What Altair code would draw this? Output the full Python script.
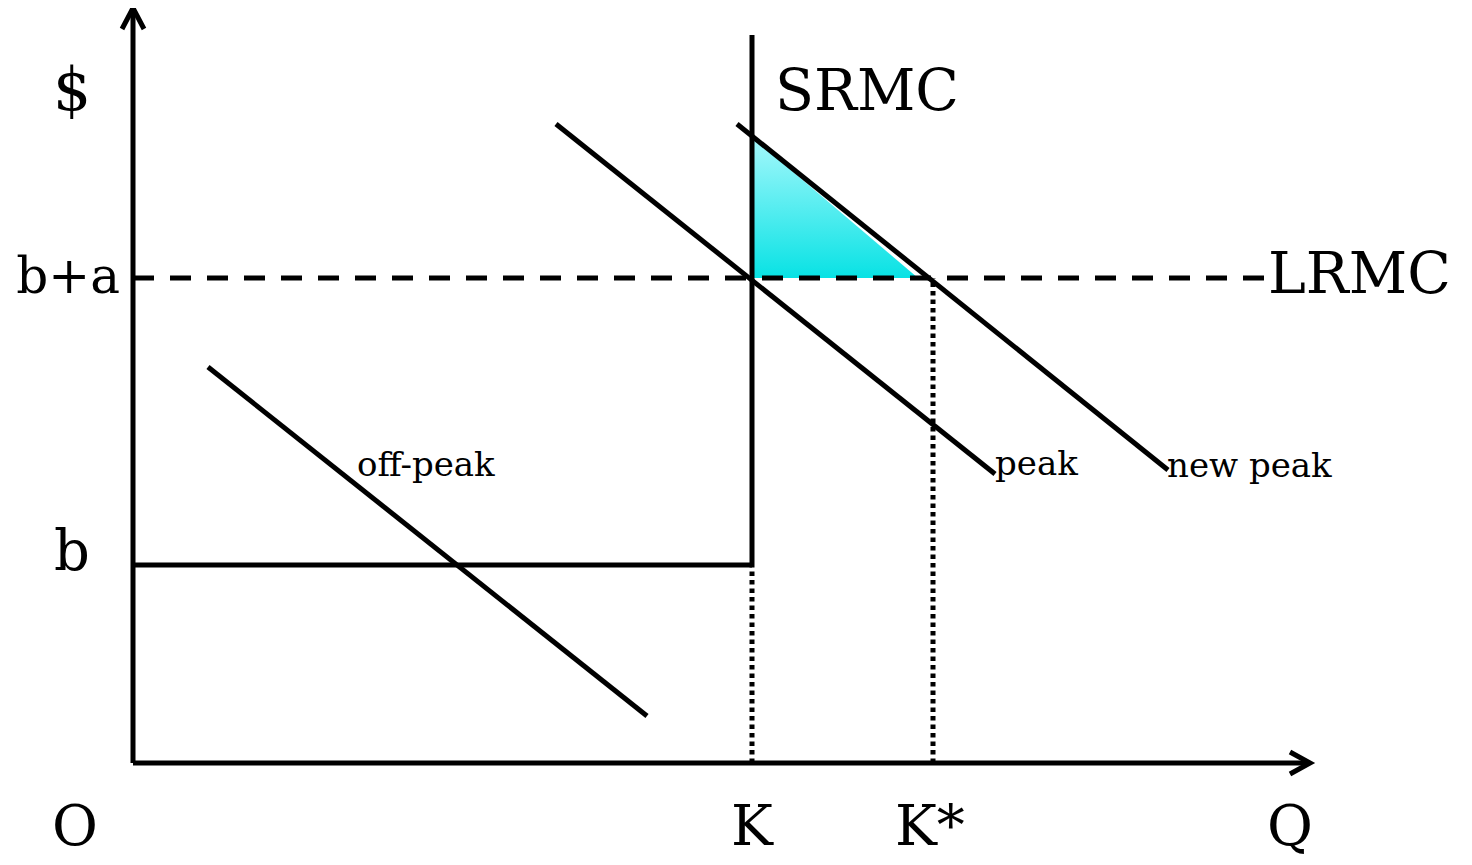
import altair as alt
import pandas as pd

# ---- data (Q, $); origin at axes corner ----
seg_name = ["yaxis", "xaxis", "SRMC", "b level", "off-peak", "peak", "new peak"]
seg_q1 = [0, 0, 619, 0, 75, 423, 604]
seg_p1 = [0, 0, 198, 198, 396, 639, 639]
seg_q2 = [0, 1177, 619, 619, 514, 862, 1035]
seg_p2 = [755, 0, 728, 198, 47, 289, 293]

dash_q1 = [0]
dash_p1 = [485]
dash_q2 = [1132]
dash_p2 = [485]

dot_q1 = [619, 800]
dot_p1 = [0, 0]
dot_q2 = [619, 800]
dot_p2 = [198, 485]

arrow_id = ["up", "up", "up", "right", "right", "right"]
arrow_ord = [0, 1, 2, 0, 1, 2]
arrow_q = [-11, 0, 11, 1157, 1177, 1157]
arrow_p = [734, 755, 734, 11, 0, -11]

tri_q = [619, 785]
tri_top = [626, 485]
tri_base = [485, 485]

big_text = ["$", "b+a", "b", "O", "K", "K*", "Q", "SRMC", "LRMC"]
big_q = [-61, -13, -61, -58, 619, 762, 1157, 642, 1135]
big_p = [653, 470, 193, -82, -82, -82, -82, 653, 470]
big_align = ["center", "right", "center", "center", "center", "left", "center", "left", "left"]
big_size = [60, 50, 56, 56, 56, 56, 56, 57, 57]

small_text = ["off-peak", "peak", "new peak"]
small_q = [224, 862, 1034]
small_p = [287, 288, 286]

XD = [-125, 1331]
YD = [-94, 755]
xs = alt.Scale(domain=XD, nice=False, zero=False)
ys = alt.Scale(domain=YD, nice=False, zero=False)
noax = None

def X(f):
    return alt.X(f, type="quantitative", scale=xs, axis=noax)

def Y(f):
    return alt.Y(f, type="quantitative", scale=ys, axis=noax)

segs = pd.DataFrame({"name": seg_name, "q1": seg_q1, "p1": seg_p1, "q2": seg_q2, "p2": seg_p2})
dash = pd.DataFrame({"q1": dash_q1, "p1": dash_p1, "q2": dash_q2, "p2": dash_p2})
dots = pd.DataFrame({"q1": dot_q1, "p1": dot_p1, "q2": dot_q2, "p2": dot_p2})
arrows = pd.DataFrame({"id": arrow_id, "o": arrow_ord, "q": arrow_q, "p": arrow_p})
tri = pd.DataFrame({"q": tri_q, "top": tri_top, "base": tri_base})
big = pd.DataFrame({"t": big_text, "q": big_q, "p": big_p, "al": big_align, "s": big_size})
small = pd.DataFrame({"t": small_text, "q": small_q, "p": small_p})

grad = alt.Gradient(
    gradient="linear",
    stops=[alt.GradientStop(color="#a6f8fc", offset=0), alt.GradientStop(color="#08e2e4", offset=1)],
    x1=0, x2=0, y1=0, y2=1,
)

tri_layer = alt.Chart(tri).mark_area(color=grad, line=False).encode(
    x=X("q"), y=Y("top"), y2="base"
)

LW = 5
seg_layer = alt.Chart(segs).mark_rule(color="black", strokeWidth=LW).encode(
    x=X("q1"), y=Y("p1"), x2="q2", y2="p2"
)
dash_layer = alt.Chart(dash).mark_rule(color="black", strokeWidth=LW, strokeDash=[21, 16]).encode(
    x=X("q1"), y=Y("p1"), x2="q2", y2="p2"
)
dot_layer = alt.Chart(dots).mark_rule(color="black", strokeWidth=LW, strokeDash=[4.5, 4]).encode(
    x=X("q1"), y=Y("p1"), x2="q2", y2="p2"
)
arrow_layer = alt.Chart(arrows).mark_line(color="black", strokeWidth=LW, strokeJoin="miter").encode(
    x=X("q"), y=Y("p"), detail="id:N", order="o:Q"
)

big_layers = []
for al in ["center", "right", "left"]:
    sub = big[big["al"] == al]
    big_layers.append(
        alt.Chart(sub).mark_text(
            font="DejaVu Serif", color="black", align=al, baseline="alphabetic"
        ).encode(
            x=X("q"), y=Y("p"), text="t:N",
            size=alt.Size("s:Q", scale=None, legend=None),
        )
    )

small_layer = alt.Chart(small).mark_text(
    font="DejaVu Serif", fontSize=34, color="black", align="left", baseline="alphabetic"
).encode(x=X("q"), y=Y("p"), text="t:N")

chart = alt.layer(
    tri_layer, dash_layer, dot_layer, seg_layer, arrow_layer, *big_layers, small_layer
).properties(
    width=1456, height=849, padding=0, autosize=alt.AutoSizeParams(type="none"),
    background="white",
).configure_view(stroke=None)

chart.save("out.html", embed_options={"renderer": "svg", "actions": False})
